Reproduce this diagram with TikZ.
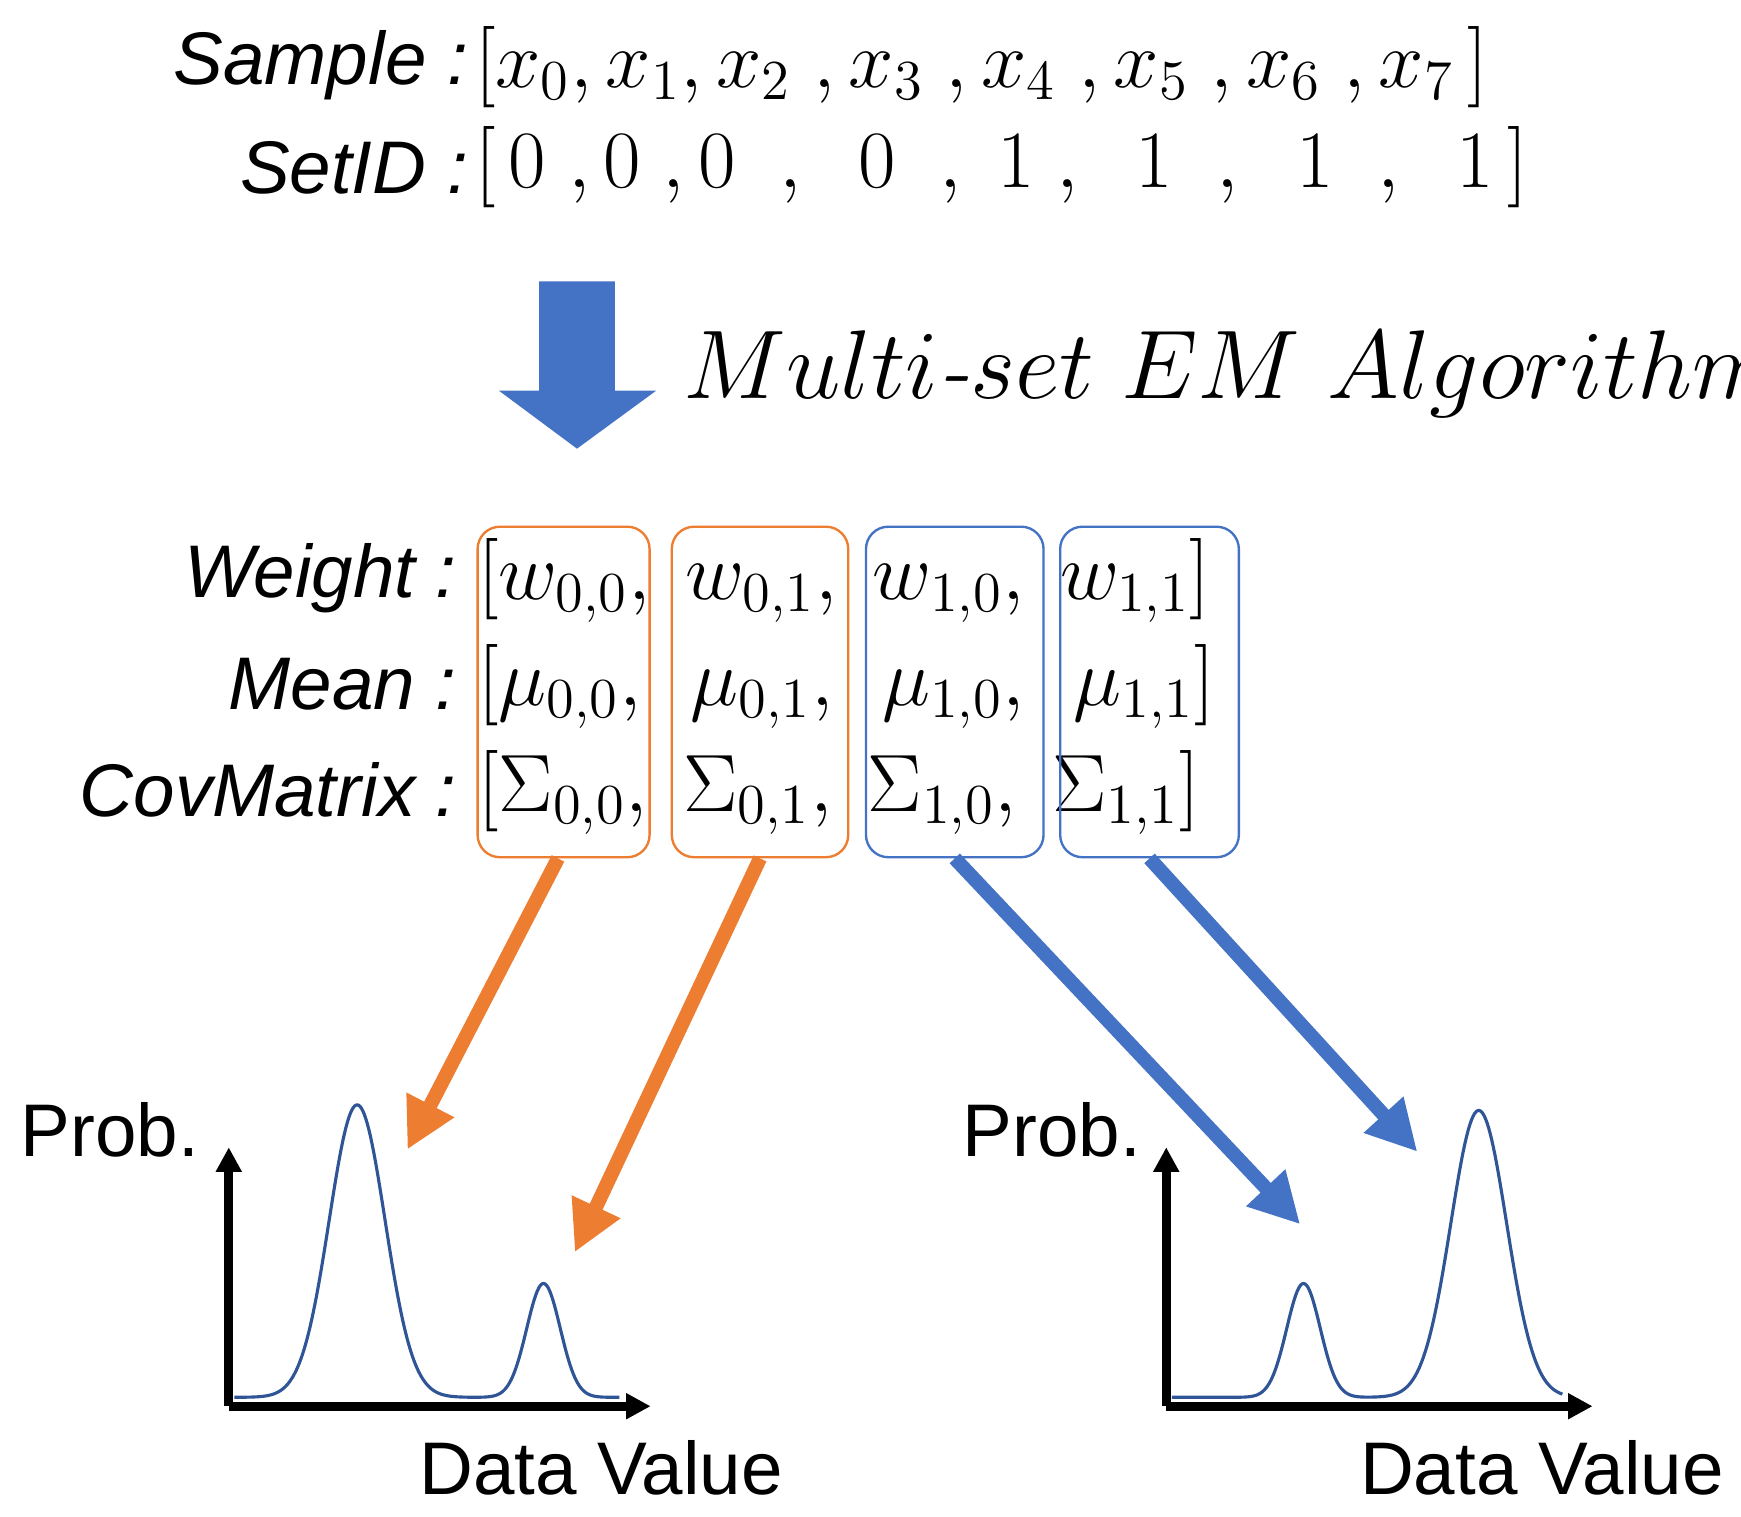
\documentclass[tikz,border=0pt]{standalone}
\usepackage{fontspec}
\setmainfont{Liberation Sans}
\newfontfamily\lmserif{Latin Modern Roman}
\usetikzlibrary{arrows.meta}
\definecolor{obox}{HTML}{ED7D31}
\definecolor{bbox}{HTML}{4472C4}
\definecolor{curve}{HTML}{2F5597}
\begin{document}
\begin{tikzpicture}[x=0.01cm,y=-0.01cm,
  lab/.style={anchor=east,inner sep=0,font=\fontsize{19}{22}\selectfont\itshape},
  mrow/.style={anchor=west,inner sep=0,font=\fontsize{20}{24}\selectfont},
  grp/.style={draw,rounded corners=0.2cm,line width=0.6pt},
  conn/.style={line width=3.6pt,-{Triangle[length=0.45cm,width=0.45cm]}},
  ax/.style={line width=2.4pt,-{Triangle[length=0.22cm,width=0.22cm]}},
  big/.style={inner sep=0,font=\fontsize{19}{22}\selectfont}]
\useasboundingbox (0,0) rectangle (1560,1359);
% top rows
\node[lab] (ls) at (420,58) {Sample :};
\node[lab] (li) at (420,150) {SetID :};
\node[mrow] (rs) at (425,60) {$[x_0,x_1,x_2\ ,x_3\ ,x_4\ ,x_5\ ,x_6\ ,x_7\,]$};
\node[mrow] (ri) at (425,150) {$[\,0\ ,0\ ,0\ \ ,\ \ 0\ \ ,\ 1\ ,\ \ 1\ \ ,\ \ 1\ \ ,\ \ 1\,]$};
% block arrow
\fill[bbox] (483,252) -- (551,252) -- (551,350) -- (588,350) -- (517,402) -- (447,350) -- (483,350) -- cycle;
\node[anchor=west,inner sep=0,font=\fontsize{23}{28}\selectfont\lmserif] (em) at (612,335) {$Multi\hbox{\lmserif\itshape -}set\ EM\ Algorithm$};
% parameter rows
\node[lab] (lw) at (410,518) {Weight :};
\node[lab] (lm) at (410,613) {Mean :};
\node[lab] (lc) at (410,708) {CovMatrix :};
\node[mrow] (w) at (428,520) {$[w_{0,0},\ w_{0,1},\ w_{1,0},\ w_{1,1}]$};
\node[mrow] (m) at (428,615) {$[\mu_{0,0},\ \,\mu_{0,1},\ \,\mu_{1,0},\ \,\mu_{1,1}]$};
\node[mrow] (c) at (428,710) {$[\Sigma_{0,0},\ \Sigma_{0,1},\ \Sigma_{1,0},\ \Sigma_{1,1}]$};
% boxes
\node[grp,obox,minimum width=1.54cm,minimum height=2.96cm] (b1) at (505,620) {};
\node[grp,obox,minimum width=1.58cm,minimum height=2.96cm] (b2) at (681,620) {};
\node[grp,bbox,minimum width=1.59cm,minimum height=2.96cm] (b3) at (855.5,620) {};
\node[grp,bbox,minimum width=1.60cm,minimum height=2.96cm] (b4) at (1030,620) {};
% plots
\coordinate (o1) at (205,1260); \coordinate (o2) at (1045,1260);
\draw[ax] (o1) -- (205,1028);
\draw[ax] (o1) -- (583,1260);
\draw[ax] (o2) -- (1045,1028);
\draw[ax] (o2) -- (1427,1260);
\draw[curve,line width=0.8pt] plot[domain=210:555,samples=250] (\x,{1252-262*exp(-((\x-320)/25)^2/2)-102*exp(-((\x-487)/15)^2/2)});
\draw[curve,line width=0.8pt] plot[domain=1050:1400,samples=250] (\x,{1252-102*exp(-((\x-1168)/15)^2/2)-257*exp(-((\x-1325)/25)^2/2)});
\node[big,anchor=west] (p1) at (18,1012) {Prob.};
\node[big,anchor=west] (p2) at (862,1012) {Prob.};
\node[big,anchor=west] (d1) at (375,1315) {Data Value};
\node[big,anchor=west] (d2) at (1218,1315) {Data Value};
\coordinate (t1) at (365,1030); \coordinate (t2) at (515,1122);
\coordinate (t3) at (1165,1097); \coordinate (t4) at (1270,1032);
\draw[conn,obox] (b1.south) ++(-5,0) -- (t1);
\draw[conn,obox] (b2.south) -- (t2);
\draw[conn,bbox] (b3.south) -- (t3);
\draw[conn,bbox] (b4.south) -- (t4);
\end{tikzpicture}
\end{document}
